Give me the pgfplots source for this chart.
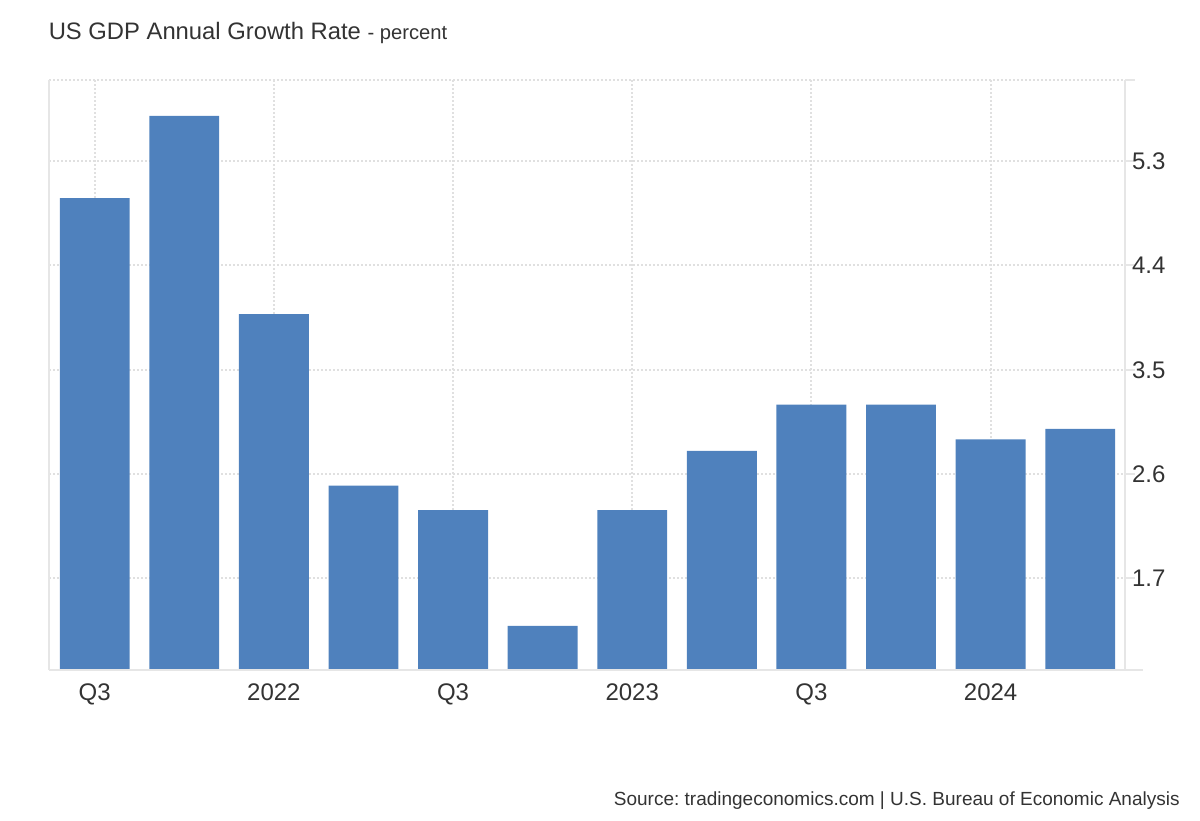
\documentclass[border=0pt]{standalone}
\usepackage{pgfplots}
\pgfplotsset{compat=1.18}
\usepackage{fontspec}
\setmainfont{Liberation Sans}
\frenchspacing

\definecolor{barblue}{HTML}{4F81BD}
\definecolor{txt}{HTML}{333333}
\definecolor{axgray}{HTML}{E6E6E6}
\definecolor{gridgray}{HTML}{E0E0E0}

\begin{document}
\begin{tikzpicture}
\path[use as bounding box] (0pt,0pt) rectangle (600pt,410pt);
\node[anchor=base west, text=txt, inner sep=0pt] at (24.2pt,390.3pt)
  {\fontsize{11.9}{15}\selectfont US GDP Annual Growth Rate \fontsize{10.1}{12}\selectfont - percent};
\node[anchor=base east, text=txt, inner sep=0pt] at (590pt,7.5pt)
  {\fontsize{9.5}{12}\selectfont Source: tradingeconomics.com | U.S. Bureau of Economic Analysis};
\begin{axis}[
  at={(24.5pt,75pt)}, anchor=south west,
  scale only axis, width=538pt, height=295pt,
  xmin=-0.51, xmax=11.5,
  ymin=0.91, ymax=6.0,
  clip=false,
  axis line style={draw=none},
  xtick={0,2,4,6,8,10},
  xticklabels={Q3,2022,Q3,2023,Q3,2024},
  xtick style={draw=none},
  ytick={1.7,2.6,3.5,4.4,5.3},
  yticklabels={1.7,2.6,3.5,4.4,5.3},
  extra y ticks={6.0},
  extra y tick labels={},
  ytick pos=right, yticklabel pos=right,
  tick align=outside, major tick length=5pt,
  ytick style={draw=axgray, line width=1pt},
  grid=major,
  major grid style={draw=gridgray, line width=1pt, dash pattern=on 1pt off 1pt},
  tick label style={font=\fontsize{12}{14}\selectfont, text=txt},
  yticklabel style={anchor=west, xshift=-5pt},
  xticklabel style={yshift=1.5pt},
]
\addplot[ybar, bar width=0.78, fill=barblue, draw=none] coordinates {
  (0,4.98) (1,5.69) (2,3.98) (3,2.50) (4,2.29) (5,1.29)
  (6,2.29) (7,2.80) (8,3.20) (9,3.20) (10,2.90) (11,2.99)
};
\draw[axgray, line width=1pt] (rel axis cs:0,0) -- (rel axis cs:0,1);
\draw[axgray, line width=1pt] (rel axis cs:1,0) -- (rel axis cs:1,1);
\draw[axgray, line width=1pt] (rel axis cs:0,0) -- ([xshift=9pt]rel axis cs:1,0);
\end{axis}
\end{tikzpicture}
\end{document}
